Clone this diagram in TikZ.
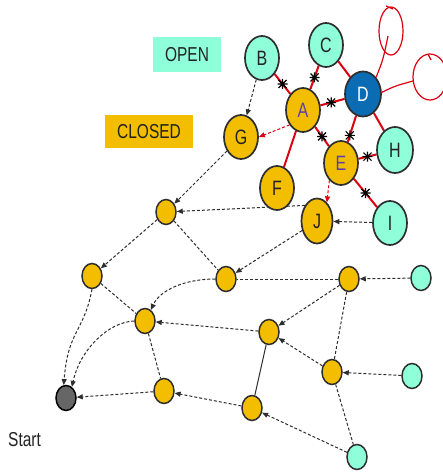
\documentclass[tikz,border=0pt]{standalone}
\usepackage{fontspec}
\setmainfont{Liberation Sans}
\usepackage{graphicx}
\usetikzlibrary{shapes.geometric,arrows.meta,calc}

\definecolor{gold}{HTML}{F4BE00}
\definecolor{aqua}{HTML}{8FFFDA}
\definecolor{deepblue}{HTML}{0B6BB3}
\definecolor{rim}{HTML}{2E2E2E}
\definecolor{ink}{HTML}{222222}
\definecolor{violet}{HTML}{5B3FA8}
\definecolor{cutred}{HTML}{DD0011}
\definecolor{stone}{HTML}{666666}

% tall lettering
\newcommand{\tallt}[1]{\scalebox{1}[1.3]{#1}}

\pgfdeclarelayer{bg}
\pgfdeclarelayer{edges}
\pgfsetlayers{bg,edges,main}

\tikzset{
  big/.style={ellipse, draw=rim, line width=1.7pt, minimum width=34pt,
    minimum height=44pt, inner sep=0pt, font=\fontsize{16}{18}\selectfont, text=ink},
  small/.style={ellipse, draw=rim, line width=1.5pt, minimum width=20pt,
    minimum height=25pt, inner sep=0pt},
  closedn/.style={fill=gold},
  openn/.style={fill=aqua},
  lbl/.style={inner sep=0pt, font=\fontsize{15.5}{18}\selectfont, text=ink},
  dl/.style={rim, line width=1pt, dash pattern=on 3pt off 2pt},
  dla/.style={dl, -{Triangle[length=6pt,width=5pt]}},
  redl/.style={cutred, line width=2pt},
  redda/.style={cutred, line width=1pt, dash pattern=on 3pt off 2pt,
    -{Triangle[length=6pt,width=5pt]}},
  loopl/.style={cutred, line width=1.2pt},
  cutmark/.pic={
    \draw[black, line width=1.1pt]
      (-4pt,-4pt) -- (4pt,4pt) (-4pt,4pt) -- (4pt,-4pt)
      (-5pt,0) -- (5pt,0) (0,-5pt) -- (0,5pt);
  }
}

\begin{document}
\begin{tikzpicture}[x=1pt,y=-1pt]
\begin{pgfonlayer}{bg}
  \fill[white] (0,0) rectangle (442,473);
\end{pgfonlayer}
\useasboundingbox (0,0) rectangle (442,473);

% legend
\node[lbl, fill=aqua, minimum width=68pt, minimum height=35pt] (openlbl) at (187,54.5) {\tallt{OPEN}};
\node[lbl, fill=gold, minimum width=88pt, minimum height=33pt] (closedlbl) at (149,131.5) {\tallt{CLOSED}};
\node[lbl, anchor=west] (startlbl) at (8,440) {\tallt{Start}};

% lettered nodes
\node[big, openn] (B) at (262,58) {\tallt{B}};
\node[big, openn] (C) at (326,45) {\tallt{C}};
\node[big, fill=deepblue, minimum width=36pt, minimum height=45pt, text=white] (D) at (363,94) {\tallt{D}};
\node[big, closedn, text=violet] (A) at (303,110) {\tallt{A}};
\node[big, closedn] (G) at (241,137) {\tallt{G}};
\node[big, closedn, text=violet] (E) at (341,163) {\tallt{E}};
\node[big, openn, minimum width=36pt, minimum height=46pt] (H) at (395,150) {\tallt{H}};
\node[big, closedn] (F) at (277,188) {\tallt{F}};
\node[big, closedn, minimum width=31pt, minimum height=45pt] (J) at (317,221) {\tallt{J}};
\node[big, openn] (I) at (390,223) {\tallt{I}};

% unlabelled nodes
\node[small, closedn] (n1) at (166,212) {};
\node[small, closedn] (n2) at (92,276) {};
\node[small, closedn] (n3) at (226,279) {};
\node[small, closedn] (n4) at (349,279) {};
\node[small, openn]   (o1) at (421,278) {};
\node[small, closedn] (n5) at (145,321) {};
\node[small, closedn] (n6) at (269,332) {};
\node[small, closedn] (n7) at (332,372) {};
\node[small, openn]   (o2) at (412,376) {};
\node[small, closedn] (n8) at (164,391) {};
\node[small, closedn] (n9) at (252,408) {};
\node[small, openn]   (o3) at (357,457) {};
\node[small, fill=stone, draw=black] (start) at (66,398) {};

% loop ends
\coordinate (loopa) at (388,36);
\coordinate (loopb) at (413,81);

\begin{pgfonlayer}{edges}
  % red edges of the current expansion
  \draw[redl] (A) -- (B);
  \draw[redl] (A) -- (C);
  \draw[redl] (A) -- (D);
  \draw[redl] (A) -- (E);
  \draw[redl] (A) -- (F);
  \draw[redl] (D) -- (C);
  \draw[redl] (D) -- (E);
  \draw[redl] (D) -- (H);
  \draw[redl] (E) -- (H);
  \draw[redl] (E) -- (I);
  % self loops of D
  \draw[loopl] (D.52) .. controls (383,60) .. (loopa);
  \draw[loopl] (391,31) ellipse [x radius=12, y radius=24];
  \draw[loopl] (386,6) -- (393,9);
  \draw[loopl] (D.5) .. controls (395,86) .. (loopb);
  \draw[loopl] (430,77) ellipse [x radius=17, y radius=23];
  \draw[loopl] (428,54) -- (431,60);

  % red dashed arrows
  \draw[redda] (A.228) -- (G.east);
  \draw[redda] (E.236) -- (J.62);

  % black dashed search tree
  \draw[dla] (B) -- (G);
  \draw[dla] (G) -- (n1);
  \draw[dla] (J.128) -- (n1);
  \draw[dla] (I) -- (J);
  \draw[dla] (J) -- (n3);
  \draw[dla] (n1) -- (n2);
  \draw[dl]  (n1) -- (n3);
  \draw[dl]  (n4) -- (n3);
  \draw[dla] (o1) -- (n4);
  \draw[dla] (n3.west) .. controls (185,279) and (160,290) .. (n5.62);
  \draw[dl]  (n2) -- (n5);
  \draw[dla] (n2.south) .. controls (84,332) and (68,330) .. (start.100);
  \draw[dla] (n5.west) .. controls (108,322) and (80,350) .. (start.62);
  \draw[dla] (n6) -- (n5);
  \draw[dla] (n4) -- (n6);
  \draw[dl]  (n4) -- (n7);
  \draw[dla] (o2) -- (n7);
  \draw[dla] (n7) -- (n6);
  \draw[dl]  (n7) -- (o3);
  \draw[rim, line width=1pt] (n6) -- (n9);
  \draw[dla] (o3) -- (n9);
  \draw[dla] (n9) -- (n8);
  \draw[dl]  (n5) -- (n8);
  \draw[dla] (n8) -- (start);
\end{pgfonlayer}

% cut marks on removed edges
\pic at ($(A)!0.5!(B)$) {cutmark};
\pic at ($(A)!0.5!(C)$) {cutmark};
\pic at ($(A)!0.47!(D)$) {cutmark};
\pic at ($(A)!0.5!(E)$) {cutmark};
\pic at ($(D)!0.6!(E)$) {cutmark};
\pic at ($(E)!0.49!(H)$) {cutmark};
\pic at ($(E)!0.5!(I)$) {cutmark};
\end{tikzpicture}
\end{document}
